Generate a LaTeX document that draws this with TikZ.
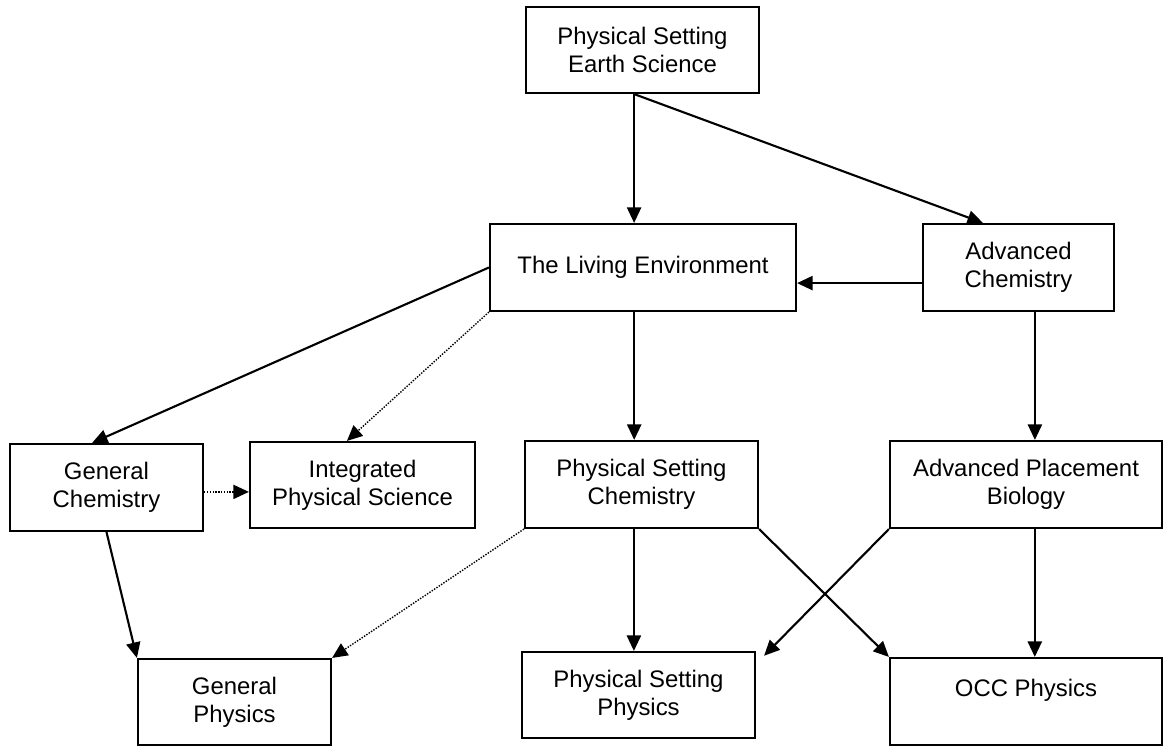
\documentclass[tikz,border=0pt]{standalone}
\usepackage{fontspec}
\setmainfont{Liberation Sans}
\usetikzlibrary{arrows.meta}
\begin{document}
\begin{tikzpicture}[x=0.025cm,y=-0.025cm,
        course/.style={draw,line width=1.5pt,align=center,inner sep=0pt,
            font=\fontsize{17}{20}\selectfont,minimum height=2.15cm},
        link/.style={line width=1.5pt,-{Triangle[length=11pt,width=10pt]}},
        weak/.style={line width=1pt,densely dotted,-{Triangle[length=11pt,width=10pt]}}
        ]
        \useasboundingbox (0,0) rectangle (1164,747);
        \node[course,minimum width=5.825cm] (es) at (642.5,50) {Physical Setting\\Earth Science};
        \node[course,minimum width=7.65cm,minimum height=2.175cm] (le) at (643,267.5) {The Living Environment};
        \node[course,minimum width=4.775cm,minimum height=2.175cm] (ac) at (1018.5,267.5) {Advanced\\Chemistry};
        \node[course,minimum width=4.825cm,minimum height=2.175cm] (gc) at (106.5,487.5) {General\\Chemistry};
        \node[course,minimum width=5.625cm] (ips) at (362.5,485) {Integrated\\Physical Science};
        \node[course,minimum width=5.825cm,minimum height=2.175cm] (psc) at (641.5,484.5) {Physical Setting\\Chemistry};
        \node[course,minimum width=6.8cm,minimum height=2.175cm] (apb) at (1026,484.5) {Advanced Placement\\Biology};
        \node[course,minimum width=4.825cm] (gp) at (234.5,702) {General\\Physics};
        \node[course,minimum width=5.825cm] (psp) at (638.5,695) {Physical Setting\\Physics};
        \node[course,minimum width=6.8cm,minimum height=2.175cm] (occ) at (1026,701.5) {OCC Physics\\~};

        \draw[link] ([xshift=-0.21cm]es.south) -- ([xshift=-0.21cm]es.south |- le.north);
        \draw[link] ([xshift=-0.21cm]es.south) -- ([xshift=-0.89cm]ac.north);
        \draw[link] ([yshift=-0.39cm]ac.west) -- ([yshift=-0.39cm]ac.west -| le.east);
        \draw[link] ([xshift=0.41cm]ac.south) -- ([xshift=0.41cm]ac.south |- apb.north);
        \draw[link] ([xshift=-0.22cm]le.south) -- ([xshift=-0.22cm]le.south |- psc.north);
        \draw[link] (le.west) -- ([xshift=-0.36cm]gc.north);
        \draw[weak] (le.south west) -- ([xshift=-0.39cm]ips.north);
        \draw[weak] ([yshift=-0.11cm]gc.east) -- ([yshift=-0.11cm]gc.east -| ips.west);
        \draw[link] (gc.south) -- (gp.north west);
        \draw[weak] (psc.south west) -- (gp.north east);
        \draw[link] ([xshift=-0.19cm]psc.south) -- ([xshift=-0.19cm]psc.south |- psp.north);
        \draw[link] (psc.south east) -- (occ.north west);
        \draw[link] (apb.south west) -- ([shift={(0.2cm,-0.12cm)}]psp.north east);
        \draw[link] ([xshift=0.22cm]apb.south) -- ([xshift=0.22cm]apb.south |- occ.north);
    \end{tikzpicture}
\end{document}
